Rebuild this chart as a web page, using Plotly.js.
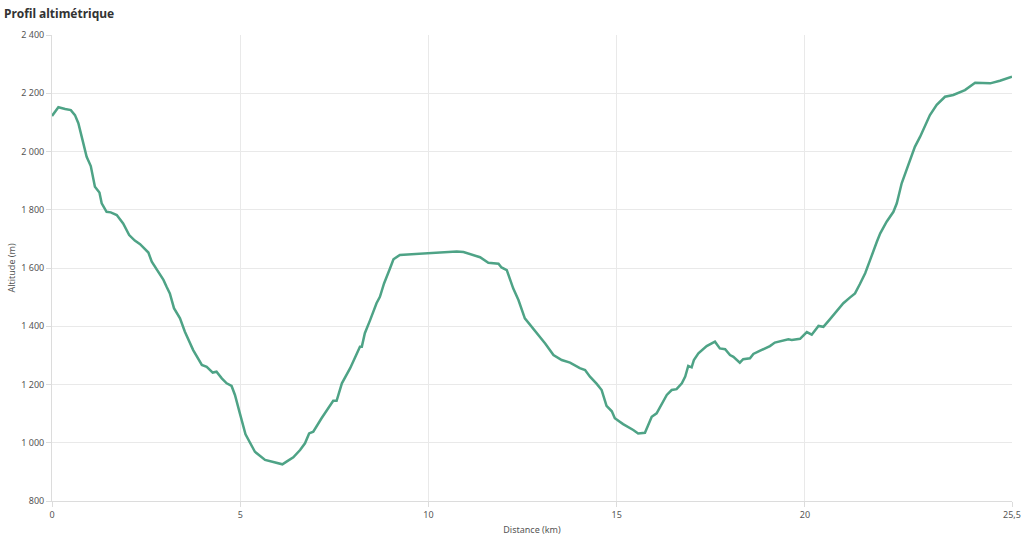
<!DOCTYPE html>
<html>
<head>
<meta charset="utf-8">
<script src="https://cdn.plot.ly/plotly-3.0.1.min.js"></script>
<style>
html,body{margin:0;padding:0;background:#fff;}
#chart{width:1024px;height:540px;}
</style>
</head>
<body>
<div id="chart"></div>
<script>
const distanceKm = [0, 0.17, 0.35, 0.50, 0.61, 0.70, 0.81, 0.92, 1.03, 1.14, 1.26, 1.32, 1.45, 1.56, 1.72, 1.89, 2.05, 2.20, 2.34, 2.56, 2.65, 2.82, 2.96, 3.05, 3.13, 3.24, 3.40, 3.53, 3.75, 3.98, 4.11, 4.27, 4.37, 4.51, 4.64, 4.77, 4.86, 4.99, 5.14, 5.39, 5.66, 5.88, 6.12, 6.23, 6.41, 6.59, 6.72, 6.83, 6.94, 7.16, 7.28, 7.47, 7.56, 7.70, 7.92, 8.09, 8.18, 8.23, 8.31, 8.45, 8.62, 8.71, 8.82, 8.98, 9.07, 9.24, 9.59, 10.04, 10.48, 10.75, 10.93, 11.19, 11.37, 11.59, 11.86, 11.94, 12.08, 12.25, 12.39, 12.56, 12.78, 12.96, 13.10, 13.32, 13.54, 13.76, 14.02, 14.16, 14.29, 14.47, 14.60, 14.73, 14.87, 14.95, 15.17, 15.44, 15.57, 15.75, 15.84, 15.93, 16.06, 16.20, 16.33, 16.46, 16.59, 16.73, 16.82, 16.90, 16.99, 17.05, 17.17, 17.39, 17.61, 17.74, 17.88, 18.01, 18.10, 18.27, 18.36, 18.54, 18.63, 18.81, 19.07, 19.20, 19.43, 19.56, 19.65, 19.87, 20.05, 20.18, 20.36, 20.49, 20.65, 20.89, 21.02, 21.20, 21.33, 21.46, 21.60, 21.73, 21.82, 21.91, 22.00, 22.17, 22.35, 22.44, 22.57, 22.75, 22.92, 23.06, 23.32, 23.50, 23.72, 23.94, 24.25, 24.52, 24.92, 25.18, 25.50];
const altitudeM = [2122, 2152, 2146, 2142, 2125, 2097, 2040, 1982, 1950, 1879, 1859, 1822, 1793, 1791, 1782, 1753, 1713, 1694, 1682, 1653, 1622, 1587, 1559, 1534, 1513, 1462, 1427, 1381, 1318, 1267, 1261, 1241, 1244, 1221, 1204, 1195, 1164, 1101, 1029, 969, 941, 934, 926, 935, 950, 975, 998, 1032, 1038, 1084, 1106, 1144, 1144, 1204, 1256, 1307, 1330, 1330, 1376, 1421, 1479, 1501, 1547, 1599, 1630, 1645, 1648, 1650, 1653, 1657, 1655, 1645, 1637, 1618, 1615, 1602, 1593, 1530, 1490, 1427, 1393, 1364, 1341, 1301, 1284, 1275, 1256, 1250, 1227, 1202, 1181, 1127, 1108, 1084, 1064, 1044, 1032, 1034, 1064, 1089, 1101, 1135, 1164, 1181, 1184, 1204, 1227, 1264, 1259, 1284, 1307, 1332, 1347, 1324, 1321, 1301, 1295, 1275, 1287, 1290, 1305, 1316, 1332, 1344, 1350, 1355, 1353, 1357, 1380, 1371, 1401, 1398, 1422, 1458, 1479, 1499, 1513, 1545, 1582, 1627, 1662, 1690, 1719, 1759, 1793, 1822, 1891, 1959, 2016, 2051, 2125, 2160, 2188, 2194, 2211, 2236, 2234, 2243, 2257];
const xTickVals = [0, 5, 10, 15, 20, 25.5];
const yTickVals = [800, 1000, 1200, 1400, 1600, 1800, 2000, 2200, 2400];

const trace = {
  x: distanceKm,
  y: altitudeM,
  type: 'scatter',
  mode: 'lines',
  line: {color: '#4ea386', width: 2.5, shape: 'linear'},
  hoverinfo: 'x+y'
};

const layout = {
  width: 1024,
  height: 540,
  paper_bgcolor: '#fff',
  plot_bgcolor: '#fff',
  separators: ', ',
  margin: {l: 52, r: 12, t: 35, b: 39},
  showlegend: false,
  font: {family: 'Noto Sans, Open Sans, sans-serif', size: 9, color: '#555'},
  title: {
    text: '<b>Profil altimétrique</b>',
    font: {family: 'Noto Sans, sans-serif', size: 12, color: '#333'},
    x: 0.004, xref: 'container', xanchor: 'left',
    y: 0.983, yref: 'container', yanchor: 'top'
  },
  xaxis: {
    range: [0, 25.5],
    tickvals: xTickVals,
    tickformat: '.3~f',
    showgrid: true, gridcolor: '#e9e9e9', gridwidth: 1,
    zeroline: false,
    showline: true, linecolor: '#dcdcdc', linewidth: 1,
    ticks: 'outside', ticklen: 5, tickcolor: '#dcdcdc',
    tickfont: {size: 9, color: '#555'},
    title: {text: 'Distance (km)', font: {size: 9, color: '#555'}, standoff: 6}
  },
  yaxis: {
    range: [800, 2400],
    tickvals: yTickVals,
    separatethousands: true,
    showgrid: true, gridcolor: '#e9e9e9', gridwidth: 1,
    zeroline: false,
    showline: true, linecolor: '#dcdcdc', linewidth: 1,
    ticks: 'outside', ticklen: 5, tickcolor: '#dcdcdc',
    tickfont: {size: 9, color: '#555'},
    title: {text: 'Altitude (m)', font: {size: 9, color: '#555'}, standoff: 4}
  }
};

Plotly.newPlot('chart', [trace], layout, {displayModeBar: false, staticPlot: true});
</script>
</body>
</html>
